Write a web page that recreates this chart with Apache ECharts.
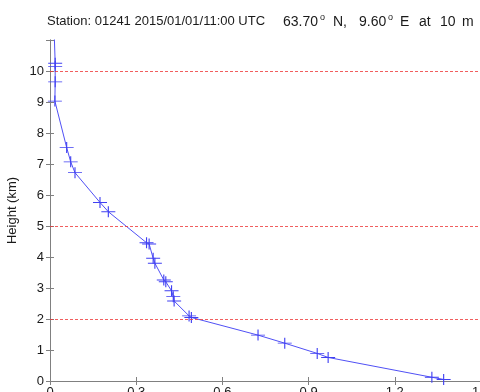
<!DOCTYPE html>
<html>
<head>
<meta charset="utf-8">
<script src="https://cdn.jsdelivr.net/npm/echarts@6/dist/echarts.min.js"></script>
<style>html,body{margin:0;padding:0;background:#fff}#c{width:480px;height:392px}</style>
</head>
<body>
<div id="c"></div>
<script>
var heights = [12, 10.25, 10.15, 9.65, 9.03, 7.53, 7.07, 6.72, 5.76, 5.46, 4.46, 4.42, 3.96, 3.8, 3.26, 3.2, 2.91, 2.72, 2.58, 2.1, 2.05, 1.48, 1.22, 0.89, 0.76, 0.12, 0.05];
var values = [0.012, 0.018, 0.018, 0.018, 0.017, 0.058, 0.072, 0.087, 0.174, 0.203, 0.336, 0.345, 0.359, 0.365, 0.396, 0.403, 0.423, 0.429, 0.432, 0.484, 0.492, 0.724, 0.817, 0.93, 0.968, 1.329, 1.37];
var refLines = [2, 5, 10];
var xTicks = [0, 0.3, 0.6, 0.9, 1.2, 1.5];
var yTicks = [0, 1, 2, 3, 4, 5, 6, 7, 8, 9, 10];
var titleMain = 'Station: 01241 2015/01/01/11:00 UTC';
var titleTokens = ['63.70', 'o', 'N,', '9.60', 'o', 'E', 'at', '10', 'm'];

var chart = echarts.init(document.getElementById('c'), null, {renderer: 'canvas'});
var axisCol = '#808080';
var font = 'Liberation Sans, Arial, sans-serif';
var txtCol = '#1a1a1a';
var data = values.map(function (v, i) { return [v, heights[i]]; });

// title token positions (layout only)
var tokX = [283, 320, 333, 359, 388, 400, 419, 440, 462];
var titleGraphics = [{
  type: 'text', x: 47, y: 15,
  style: { text: titleMain, fill: txtCol, font: '13px ' + font }
}];
titleTokens.forEach(function (t, i) {
  var sup = t === 'o';
  titleGraphics.push({
    type: 'text', x: tokX[i], y: sup ? 13 : 15,
    style: { text: t, fill: txtCol, font: (sup ? '9px ' : '14px ') + font }
  });
});

chart.setOption({
  animation: false,
  backgroundColor: '#fff',
  graphic: titleGraphics,
  grid: { left: 50, top: 40, right: -1, bottom: 11, containLabel: false, outerBoundsMode: 'none' },
  xAxis: [{
    type: 'value', min: 0, max: 1.5, interval: 0.3, position: 'bottom',
    axisLine: { show: true, lineStyle: { color: axisCol, width: 1 } },
    axisTick: { show: true, inside: true, length: 4, lineStyle: { color: axisCol } },
    splitLine: { show: false },
    axisLabel: {
      margin: 5, fontFamily: font, fontSize: 13, color: txtCol,
      formatter: function (v) { return v === 0 ? '0' : v.toFixed(1); }
    }
  }, {
    type: 'value', min: 0, max: 1.5, interval: 0.3, position: 'top',
    axisLine: { show: true, lineStyle: { color: axisCol, width: 1 } },
    axisTick: { show: true, inside: true, length: 4, lineStyle: { color: axisCol } },
    splitLine: { show: false }, axisLabel: { show: false }
  }],
  yAxis: [{
    type: 'value', min: 0, max: 11, interval: 1, position: 'left',
    name: 'Height (km)', nameLocation: 'middle', nameGap: 29,
    nameTextStyle: { fontFamily: font, fontSize: 13, color: txtCol },
    axisLine: { show: true, lineStyle: { color: axisCol, width: 1 } },
    axisTick: { show: true, inside: true, length: 4, lineStyle: { color: axisCol } },
    splitLine: { show: false },
    axisLabel: {
      margin: 6, fontFamily: font, fontSize: 13, color: txtCol,
      formatter: function (v) { return yTicks.indexOf(v) >= 0 ? String(v) : ''; }
    }
  }, {
    type: 'value', min: 0, max: 11, interval: 1, position: 'right',
    axisLine: { show: true, lineStyle: { color: axisCol, width: 1 } },
    axisTick: { show: true, inside: true, length: 4, lineStyle: { color: axisCol } },
    splitLine: { show: false }, axisLabel: { show: false }
  }],
  series: [{
    type: 'line',
    data: data,
    xAxisIndex: 0, yAxisIndex: 0,
    clip: true,
    lineStyle: { color: '#5050f5', width: 1 },
    symbol: 'path://M0,5L12,5M6,0L6,10',
    symbolSize: [14, 11],
    showAllSymbol: true,
    itemStyle: { color: 'rgba(0,0,0,0)', borderColor: '#4040f2', borderWidth: 1 },
    markLine: {
      silent: true, symbol: 'none', label: { show: false },
      lineStyle: { color: '#ee3535', type: [3, 2], width: 0.8 },
      data: refLines.map(function (h) { return { yAxis: h }; })
    },
    z: 3
  }]
});
</script>
</body>
</html>
